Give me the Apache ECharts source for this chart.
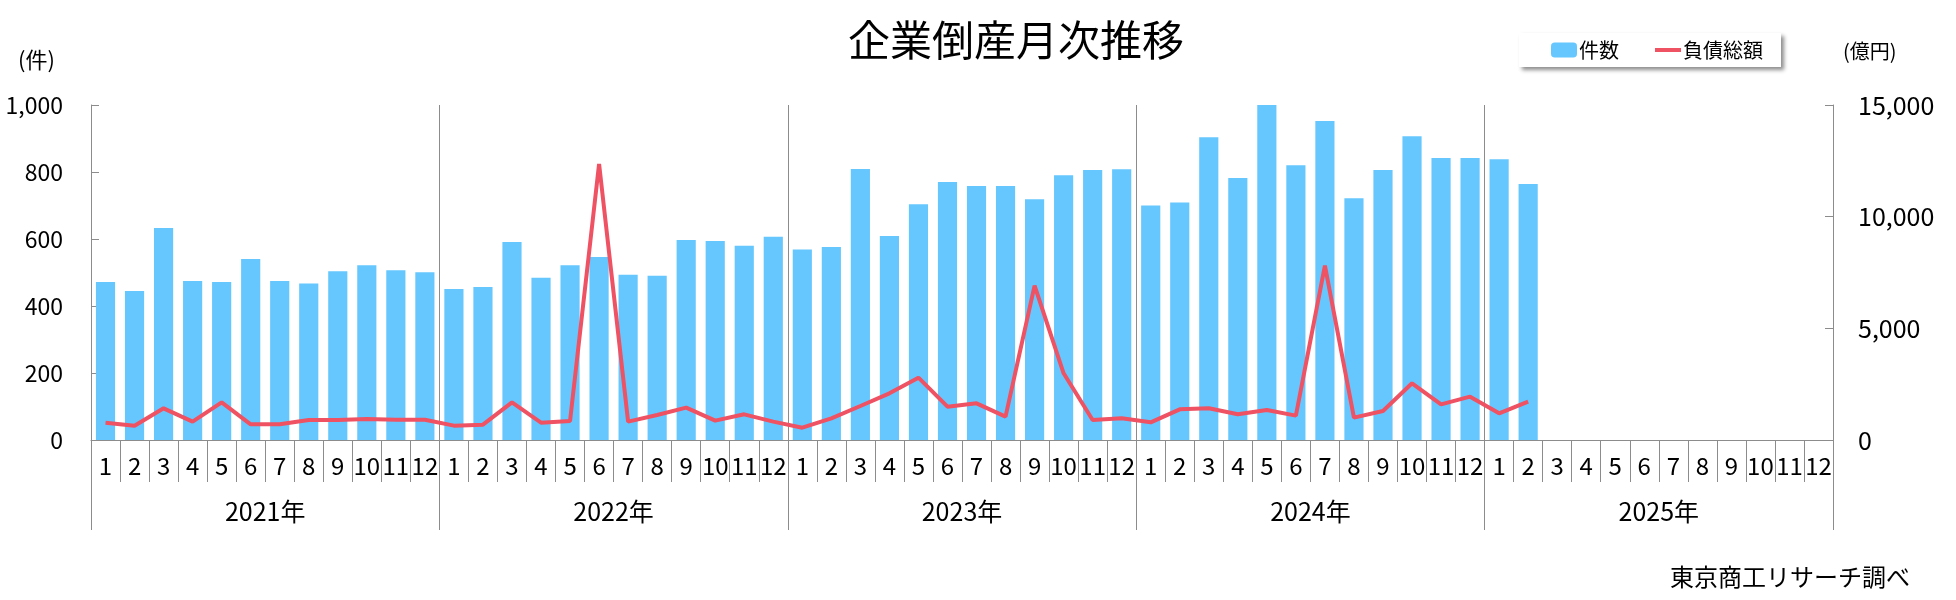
<!DOCTYPE html>
<html>
<head>
<meta charset="utf-8">
<script src="https://cdn.jsdelivr.net/npm/echarts@6/dist/echarts.min.js"></script>
<style>
  html, body { margin: 0; padding: 0; background: #fff; }
  #chart { width: 1956px; height: 600px; }
</style>
</head>
<body>
<div id="chart"></div>
<script>
// 月ラベル (2021年1月〜2025年12月)
const monthLabels = [];
for (let y = 0; y < 5; y++) {
    for (let m = 1; m <= 12; m++) monthLabels.push(String(m));
}
const yearLabels = ['2021年', '2022年', '2023年', '2024年', '2025年'];

// 件数
const count2021 = [472, 445, 633, 475, 472, 540, 475, 467, 504, 522, 507, 501];
const count2022 = [451, 457, 591, 484, 522, 546, 493, 490, 597, 594, 580, 607];
const count2023 = [569, 576, 809, 609, 704, 770, 758, 758, 719, 790, 806, 808];
const count2024 = [700, 709, 904, 782, 1000, 820, 952, 722, 806, 907, 842, 842];
const count2025 = [838, 764];

// 負債総額（億円）
const debt2021 = [776, 642, 1418, 821, 1687, 702, 702, 896, 896, 940, 910, 910];
const debt2022 = [642, 687, 1687, 776, 851, 12363, 821, 1120, 1448, 866, 1150, 821];
const debt2023 = [552, 970, 1523, 2090, 2792, 1493, 1642, 1045, 6913, 2986, 896, 970];
const debt2024 = [791, 1373, 1418, 1150, 1344, 1090, 7808, 1000, 1299, 2538, 1597, 1941];
const debt2025 = [1194, 1717];

const countData = [].concat(count2021, count2022, count2023, count2024, count2025);
const debtData = [].concat(debt2021, debt2022, debt2023, debt2024, debt2025);

const font = '"Noto Sans CJK JP", "Noto Sans", sans-serif';
const axisGrey = '#8c8c8c';
// 凡例の線アイコン（上下に余白を持たせた細い帯）
const lineIcon = 'path://M0,0 M26,15 M0,5.5 L26,5.5 L26,9.5 L0,9.5 Z';

function comma(v) {
    return String(v).replace(/\B(?=(\d{3})+(?!\d))/g, ',');
}

var myChart = echarts.init(document.getElementById('chart'));
let option = {
    backgroundColor: '#fff',
    textStyle: { fontFamily: font, color: '#000' },
    title: {
        text: '企業倒産月次推移',
        left: 843,
        top: 14,
        textStyle: { fontSize: 42, fontWeight: 'normal', color: '#000', fontFamily: font }
    },
    legend: {
        data: [{ name: '件数' }, { name: '負債総額', icon: lineIcon }],
        left: 1519,
        top: 33,
        padding: [7, 18, 7, 32],
        itemGap: 36,
        itemWidth: 26,
        itemHeight: 15,
        backgroundColor: '#fff',
        shadowColor: 'rgba(0,0,0,0.45)',
        shadowBlur: 4,
        shadowOffsetX: 3,
        shadowOffsetY: 3,
        textStyle: { fontSize: 20, color: '#000', fontFamily: font, padding: [0, 0, 0, -3] }
    },
    graphic: [
        {
            type: 'text', left: 18, top: 49,
            style: { text: '(件)', font: '22px ' + font, fill: '#000' }
        },
        {
            type: 'text', left: 1843, top: 41,
            style: { text: '(億円)', font: '20px ' + font, fill: '#000' }
        },
        {
            type: 'text', right: 46, top: 565,
            style: { text: '東京商工リサーチ調べ', font: '24px ' + font, fill: '#000' }
        }
    ],
    grid: {
        left: 91,
        right: 123,
        top: 105,
        bottom: 160
    },
    xAxis: [
        {
            type: 'category',
            data: monthLabels,
            position: 'bottom',
            axisLine: { show: true, lineStyle: { color: axisGrey, width: 1 } },
            axisTick: { show: true, length: 42, interval: 0, lineStyle: { color: axisGrey } },
            axisLabel: { interval: 0, margin: 14, fontSize: 24, color: '#000', fontFamily: font },
            splitLine: { show: false }
        },
        {
            type: 'category',
            data: yearLabels,
            position: 'bottom',
            axisLine: { show: false },
            axisTick: { show: true, length: 90, interval: 0, lineStyle: { color: axisGrey } },
            axisLabel: { interval: 0, margin: 59, fontSize: 25, color: '#000', fontFamily: font },
            splitLine: { show: true, interval: 0, lineStyle: { color: axisGrey, width: 1 } }
        }
    ],
    yAxis: [
        {
            type: 'value',
            min: 0,
            max: 1000,
            interval: 200,
            position: 'left',
            axisLine: { show: true, lineStyle: { color: axisGrey } },
            axisTick: { show: true, inside: true, length: 8, lineStyle: { color: axisGrey } },
            axisLabel: { margin: 28, fontSize: 23, color: '#000', fontFamily: font, formatter: comma },
            splitLine: { show: false }
        },
        {
            type: 'value',
            min: 0,
            max: 15000,
            interval: 5000,
            position: 'right',
            axisLine: { show: true, lineStyle: { color: axisGrey } },
            axisTick: { show: true, inside: true, length: 8, lineStyle: { color: axisGrey } },
            axisLabel: { margin: 25, fontSize: 25, color: '#000', fontFamily: font, formatter: comma },
            splitLine: { show: false }
        }
    ],
    series: [
        {
            name: '件数',
            type: 'bar',
            xAxisIndex: 0,
            yAxisIndex: 0,
            data: countData,
            barWidth: '66%',
            itemStyle: { color: '#66C7FE' }
        },
        {
            name: '負債総額',
            type: 'line',
            xAxisIndex: 0,
            yAxisIndex: 1,
            data: debtData,
            symbol: 'none',
            lineStyle: { color: '#EE5263', width: 4 },
            itemStyle: { color: '#EE5263' }
        }
    ]
};
myChart.setOption(option);
</script>
</body>
</html>
